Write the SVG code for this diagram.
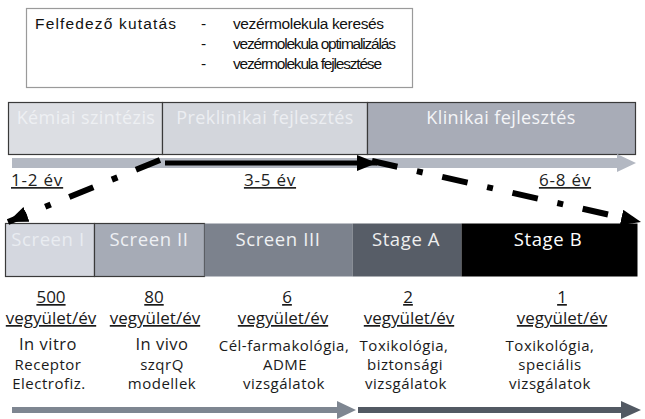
<svg xmlns="http://www.w3.org/2000/svg" width="645" height="419" viewBox="0 0 645 419">
<style>
.hdr{font-family:"Liberation Sans",Arial,sans-serif;font-size:15.5px;fill:#111}
.ph{font-family:"Open Sans","DejaVu Sans",sans-serif;font-size:18px;text-anchor:middle;letter-spacing:0.4px}
.yr{font-family:"Open Sans","DejaVu Sans",sans-serif;font-size:17px;fill:#222;text-decoration:underline;letter-spacing:0.8px}
.st{font-family:"Open Sans","DejaVu Sans",sans-serif;font-size:18.5px;text-anchor:middle;letter-spacing:0.6px}
.cnt{font-family:"Open Sans","DejaVu Sans",sans-serif;font-size:17px;fill:#1a1a1a;text-anchor:middle;text-decoration:underline}
.ds{font-family:"Open Sans","DejaVu Sans",sans-serif;font-size:15px;fill:#1a1a1a;text-anchor:middle;letter-spacing:0.5px}
.big{font-size:16.5px}
.box{stroke:#3a3a3a;stroke-width:1.2}
.dd{fill:none;stroke:#000;stroke-width:6;stroke-dasharray:26 20 6 20}
</style>
<defs>
<marker id="ah" viewBox="0 0 20 16" refX="20" refY="8" markerWidth="20" markerHeight="16" markerUnits="userSpaceOnUse" orient="auto">
<path d="M0,0 L20,8 L0,16 Z" fill="#000"/>
</marker>
</defs>
<rect width="645" height="419" fill="#fff"/>

<g id="header">
<rect x="26.5" y="8.5" width="386" height="79" fill="#fff" stroke="#9a9a9a" stroke-width="1.2"/>
<text class="hdr" x="35" y="29" textLength="141" lengthAdjust="spacing">Felfedező kutatás</text>
<text class="hdr" x="201" y="29">-</text>
<text class="hdr" x="201" y="49">-</text>
<text class="hdr" x="201" y="69">-</text>
<text class="hdr" x="233" y="29" textLength="151" lengthAdjust="spacing">vezérmolekula keresés</text>
<text class="hdr" x="233" y="49" textLength="163" lengthAdjust="spacing">vezérmolekula optimalizálás</text>
<text class="hdr" x="233" y="69" textLength="149" lengthAdjust="spacing">vezérmolekula fejlesztése</text>
</g>

<g id="phase-kemiai">
<rect class="box" x="8.5" y="102.5" width="154" height="52" fill="#dcdee3"/>
<text class="ph" x="86" y="124" fill="#eef0f3">Kémiai szintézis</text>
</g>
<g id="phase-preklinikai">
<rect class="box" x="162.5" y="102.5" width="205" height="52" fill="#d3d6dc"/>
<text class="ph" x="265" y="124" fill="#eceef2">Preklinikai fejlesztés</text>
</g>
<g id="phase-klinikai">
<rect class="box" x="367.5" y="102.5" width="268" height="52" fill="#a8acb7"/>
<text class="ph" x="501" y="124" fill="#f4f5f7">Klinikai fejlesztés</text>
</g>

<g id="timeline-top">
<polygon points="12,158 617,158 617,154 636,163 617,172 617,168 12,168" fill="#b3b8c2"/>
<text class="yr" x="11" y="186">1-2 év</text>
<text class="yr" x="270" y="186" text-anchor="middle">3-5 év</text>
<text class="yr" x="565" y="186" text-anchor="middle">6-8 év</text>
</g>

<g id="stage-screen1">
<rect class="box" x="5.5" y="223.5" width="89" height="53" fill="#d4d7df"/>
<text class="st" x="48" y="246" fill="#e9ecf1">Screen I</text>
</g>
<g id="stage-screen2">
<rect class="box" x="94.5" y="223.5" width="110" height="53" fill="#a6abb6"/>
<text class="st" x="149" y="246" fill="#eef0f4">Screen II</text>
</g>
<g id="stage-screen3">
<rect x="204.5" y="223.5" width="148" height="53" fill="#7c828d"/>
<text class="st" x="278" y="246" fill="#f0f1f3">Screen III</text>
</g>
<g id="stage-a">
<rect x="352.5" y="223.5" width="109" height="53" fill="#575d67"/>
<text class="st" x="406" y="246" fill="#eeeeee">Stage A</text>
</g>
<g id="stage-b">
<rect x="461.5" y="223.5" width="176" height="53" fill="#000"/>
<text class="st" x="548" y="246" fill="#fff">Stage B</text>
</g>

<g id="connectors">
<line x1="165" y1="163" x2="377" y2="163" stroke="#000" stroke-width="5" marker-end="url(#ah)"/>
<path class="dd" d="M160,160 L8,222" marker-end="url(#ah)"/>
<path class="dd" d="M372,161 L641,222" marker-end="url(#ah)"/>
</g>

<g id="col1">
<text class="cnt" x="51" y="303">500</text>
<text class="cnt" x="51" y="324">vegyület/év</text>
<text class="ds big" x="48" y="350">In vitro</text>
<text class="ds" x="48" y="370">Receptor</text>
<text class="ds" x="49" y="389">Electrofiz.</text>
</g>
<g id="col2">
<text class="cnt" x="154" y="303">80</text>
<text class="cnt" x="155" y="324">vegyület/év</text>
<text class="ds big" x="162" y="350">In vivo</text>
<text class="ds" x="162" y="370">szqrQ</text>
<text class="ds" x="162" y="389">modellek</text>
</g>
<g id="col3">
<text class="cnt" x="287" y="303">6</text>
<text class="cnt" x="283" y="324">vegyület/év</text>
<text class="ds" x="284" y="351">Cél-farmakológia,</text>
<text class="ds" x="285" y="370">ADME</text>
<text class="ds" x="284" y="389">vizsgálatok</text>
</g>
<g id="col4">
<text class="cnt" x="408" y="303">2</text>
<text class="cnt" x="409" y="324">vegyület/év</text>
<text class="ds" x="404" y="351">Toxikológia,</text>
<text class="ds" x="405" y="370">biztonsági</text>
<text class="ds" x="406" y="389">vizsgálatok</text>
</g>
<g id="col5">
<text class="cnt" x="562" y="303">1</text>
<text class="cnt" x="562" y="324">vegyület/év</text>
<text class="ds" x="550" y="351">Toxikológia,</text>
<text class="ds" x="550" y="370">speciális</text>
<text class="ds" x="550" y="389">vizsgálatok</text>
</g>

<g id="timeline-bottom">
<polygon points="12,407 337,407 337,401 356,410 337,419 337,413 12,413" fill="#7e8691"/>
<polygon points="358,407 621,407 621,401 641,410 621,419 621,413 358,413" fill="#525963"/>
</g>
</svg>
